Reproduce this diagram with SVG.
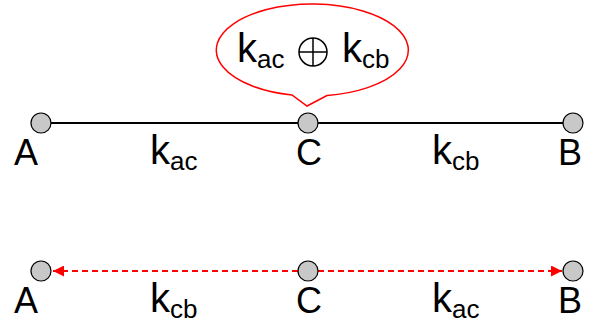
<svg xmlns="http://www.w3.org/2000/svg" width="606" height="324" viewBox="0 0 606 324">
<defs>
<style>
.node{fill:#c8c8c8;stroke:#000;stroke-width:1.2}
.lbl{font-family:"Liberation Sans",Arial,sans-serif;font-size:36px;fill:#000}
.k{font-family:"Liberation Sans",Arial,sans-serif;font-size:40px;fill:#000}
.sub{font-size:26px}
.edge{stroke:#000;stroke-width:2;fill:none}
.dash{stroke:#ff0000;stroke-width:2;fill:none;stroke-dasharray:6 4}
</style>
<marker id="arr" viewBox="0 0 10 10" refX="10" refY="5" markerWidth="15" markerHeight="11" markerUnits="userSpaceOnUse" orient="auto">
<path d="M0,0 L10,5 L0,10 Z" fill="#ff0000"/>
</marker>
</defs>
<rect width="606" height="324" fill="#fff"/>
<g id="connectors">
<line class="edge" x1="41" y1="123" x2="573" y2="123"/>
<line class="dash" x1="308" y1="271" x2="53" y2="271" marker-end="url(#arr)"/>
<line class="dash" x1="308" y1="271" x2="562" y2="271" marker-end="url(#arr)"/>
</g>
<g id="callout">
<path d="M292,95 A96,46 0 1 1 327,95.5 L307,106 Z" fill="#fff" stroke="#ff0000" stroke-width="1.5"/>
<text class="k" x="237" y="62">k<tspan class="sub" dy="6">ac</tspan></text>
<g stroke="#000" stroke-width="1.5" fill="none">
<circle cx="313" cy="52" r="14"/>
<line x1="299" y1="52" x2="327" y2="52"/>
<line x1="313" y1="38" x2="313" y2="66"/>
</g>
<text class="k" x="342" y="62">k<tspan class="sub" dy="6">cb</tspan></text>
</g>
<g id="A1"><circle class="node" cx="41" cy="123" r="10"/><text class="lbl" x="14" y="165">A</text></g>
<g id="C1"><circle class="node" cx="308" cy="123" r="10"/><text class="lbl" x="296" y="165">C</text></g>
<g id="B1"><circle class="node" cx="573" cy="123" r="10"/><text class="lbl" x="558" y="165">B</text></g>
<g id="A2"><circle class="node" cx="41" cy="271" r="10"/><text class="lbl" x="14" y="313">A</text></g>
<g id="C2"><circle class="node" cx="308" cy="271" r="10"/><text class="lbl" x="296" y="313">C</text></g>
<g id="B2"><circle class="node" cx="573" cy="271" r="10"/><text class="lbl" x="558" y="313">B</text></g>
<g id="edge-labels">
<text class="k" x="150" y="164">k<tspan class="sub" dy="6">ac</tspan></text>
<text class="k" x="432" y="164">k<tspan class="sub" dy="6">cb</tspan></text>
<text class="k" x="150" y="312">k<tspan class="sub" dy="6">cb</tspan></text>
<text class="k" x="432" y="312">k<tspan class="sub" dy="6">ac</tspan></text>
</g>
</svg>
